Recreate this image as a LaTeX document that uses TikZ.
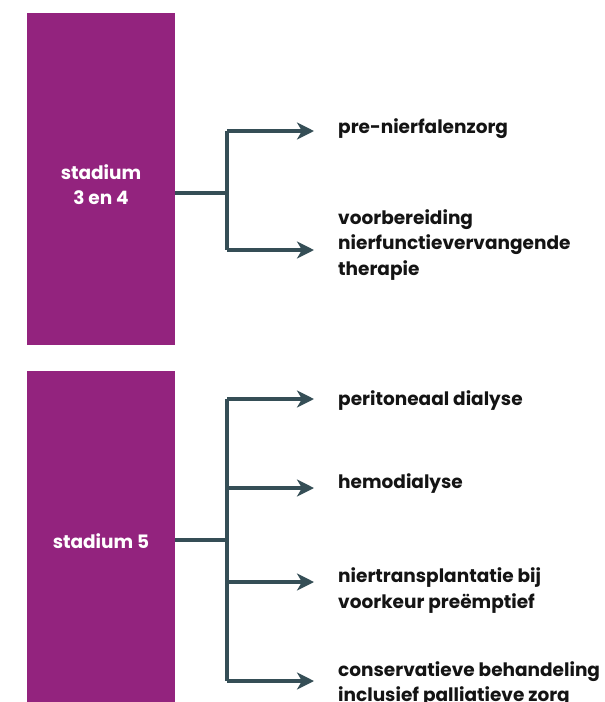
\documentclass[tikz,border=0pt]{standalone}
\usepackage{fontspec}
\setmainfont{Poppins}
\usetikzlibrary{arrows.meta}
\definecolor{stagepurple}{RGB}{147,35,126}
\definecolor{linkslate}{RGB}{53,78,86}
\definecolor{labelink}{RGB}{20,20,20}
\tikzset{
  x=1pt, y=-1pt,
  stagebox/.style={fill=stagepurple, draw=none, inner sep=0pt, anchor=north west},
  stagelabel/.style={text=white, font=\fontsize{18.5}{25}\selectfont\bfseries, align=center, inner sep=0pt},
  careitem/.style={text=labelink, font=\fontsize{18.5}{25.5}\selectfont\bfseries, align=left, anchor=west, inner sep=0pt},
  link/.style={draw=linkslate, line width=3.6pt},
  arrowlink/.style={link, -{Stealth[length=17pt, width=17pt, inset=5pt]}}
}
\begin{document}
\begin{tikzpicture}
\clip (0,0) rectangle (605,702);
\fill[white] (0,0) rectangle (605,702);

% stage columns
\node[stagebox, minimum width=148pt, minimum height=332pt] (s34) at (27,13) {};
\node[stagebox, minimum width=148pt, minimum height=340pt] (s5) at (27,371) {};
\node[stagelabel] (s34txt) at (101,184.5) {stadium\\3 en 4};
\node[stagelabel] (s5txt) at (101,541) {stadium 5};

% branch points
\coordinate (j34) at (227,193);
\coordinate (j34a) at (227,131);
\coordinate (j34b) at (227,250);
\coordinate (j5) at (227,540);
\coordinate (j5a) at (227,399);
\coordinate (j5b) at (227,488);
\coordinate (j5c) at (227,582);
\coordinate (j5d) at (227,681);

% care options
\node[careitem] (pre) at (338,129) {pre-nierfalenzorg};
\node[careitem] (voor) at (338,245) {voorbereiding\\nierfunctievervangende\\therapie};
\node[careitem] (pd) at (338,401) {peritoneaal dialyse};
\node[careitem] (hd) at (338,484) {hemodialyse};
\node[careitem] (tx) at (338,590.5) {niertransplantatie bij\\voorkeur preëmptief};
\node[careitem] (cons) at (338,684) {conservatieve behandeling\\inclusief palliatieve zorg};

% connectors, upper group
\draw[link] (s34.east |- j34) -- (j34);
\draw[link] (j34a) -- (j34b);
\draw[arrowlink] (j34a) -- ([xshift=-1pt]j34a -| 315,0);
\draw[arrowlink] (j34b) -- ([xshift=-1pt]j34b -| 315,0);

% connectors, lower group
\draw[link] (s5.east |- j5) -- (j5);
\draw[link] (j5a) -- (j5d);
\draw[arrowlink] (j5a) -- (j5a -| 314,0);
\draw[arrowlink] (j5b) -- (j5b -| 314,0);
\draw[arrowlink] (j5c) -- (j5c -| 314,0);
\draw[arrowlink] (j5d) -- (j5d -| 314,0);
\end{tikzpicture}
\end{document}
